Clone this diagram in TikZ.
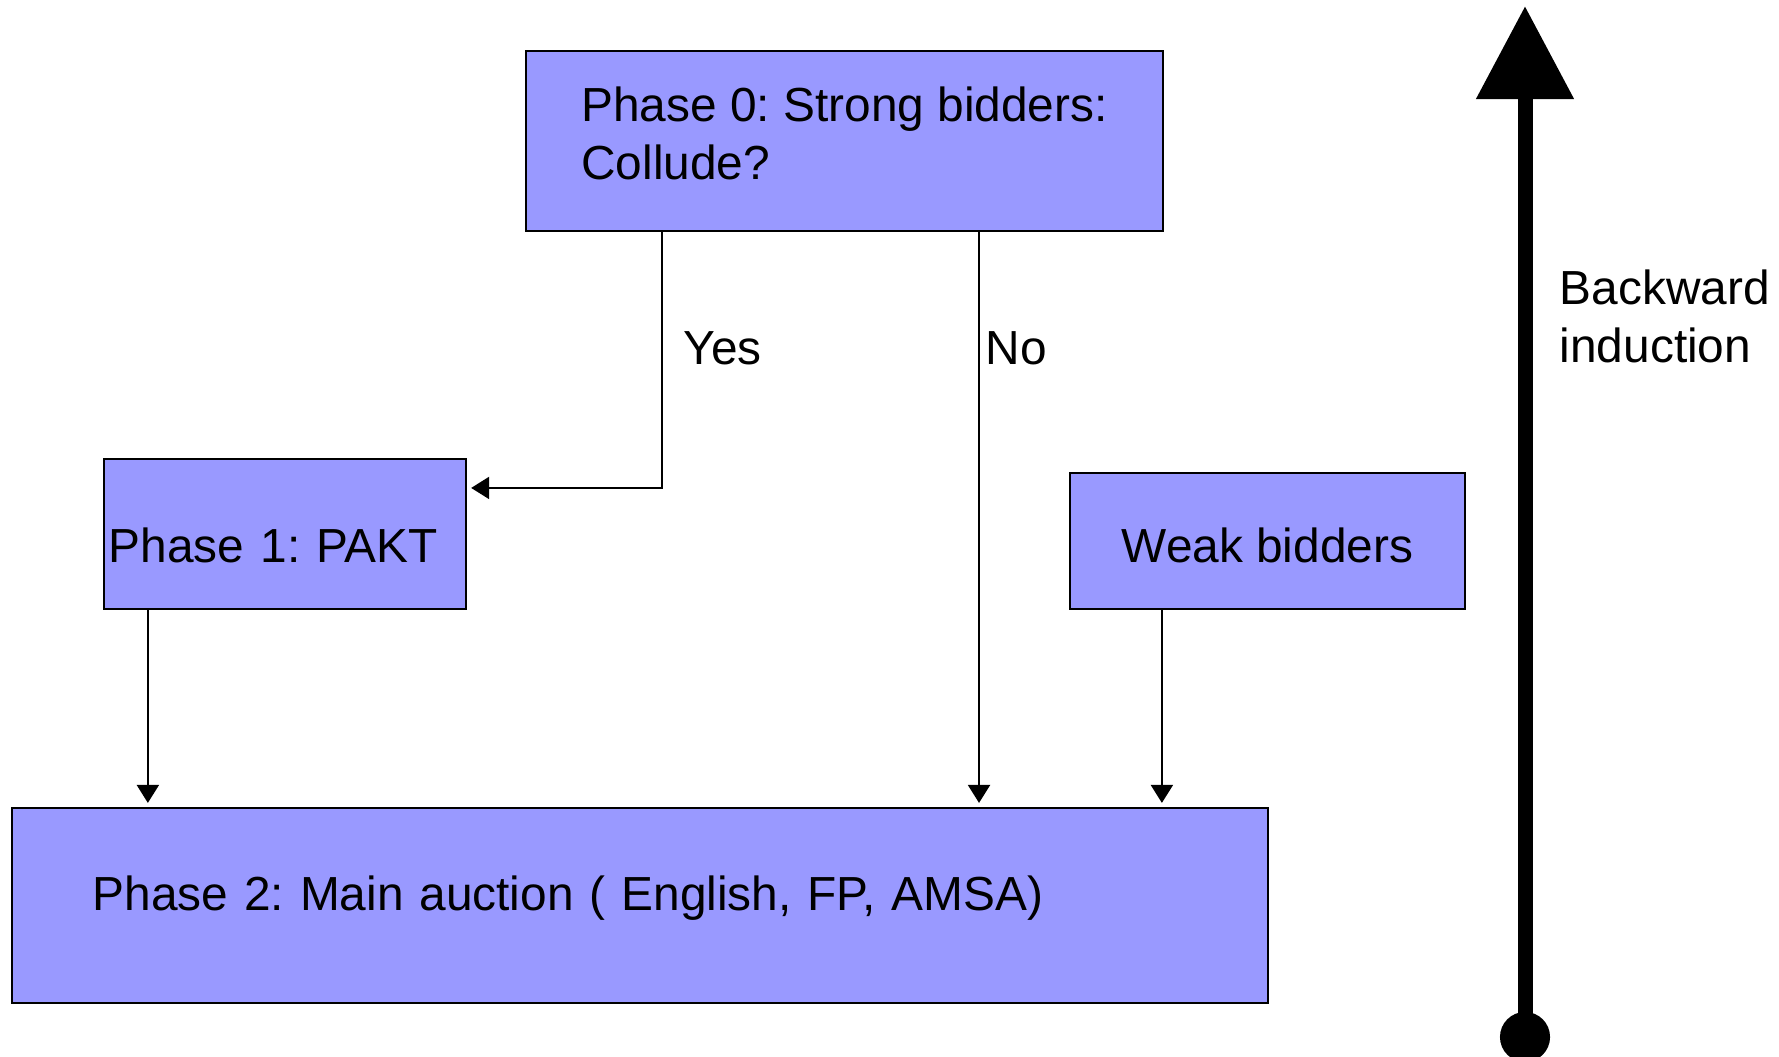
\documentclass[tikz,border=0pt]{standalone}
\usepackage{fontspec}
\setmainfont{Liberation Sans}
\usepackage{xcolor}
\usepackage{tikz}
\usetikzlibrary{arrows.meta,positioning}
\definecolor{boxblue}{RGB}{153,153,255}
\frenchspacing

\begin{document}
\begin{tikzpicture}[x=0.01cm,y=-0.01cm,font=\fontsize{13.6}{16.5}\selectfont,
	phase/.style={draw,fill=boxblue,line width=0.6pt,inner sep=0pt,align=left},
	conn/.style={line width=0.6pt,-{Triangle[length=0.18cm,width=0.22cm]},shorten >=0.04cm},
	tag/.style={inner sep=0pt,anchor=west,align=left}]
	\useasboundingbox (0,0) rectangle (1779,1056);

	\node[phase,minimum width=6.37cm,minimum height=1.80cm,text depth=0.15cm] (strong) at (844.5,141) {Phase 0: Strong bidders:\\Collude?};
	\node[phase,minimum width=3.62cm,minimum height=1.50cm,text width=3.52cm,text height=0.56cm,text depth=0cm] (pakt) at (285,534) {Phase 1: PAKT};
	\node[phase,align=center,minimum width=3.95cm,minimum height=1.36cm,text height=0.42cm,text depth=0cm] (weak) at (1267.5,541) {Weak bidders};
	\node[phase,minimum width=12.56cm,minimum height=1.95cm,text width=10.94cm,text height=0.30cm,text depth=0.21cm] (main) at (640,905.5) {Phase 2: Main auction ( English, FP, AMSA)};

	\coordinate (yesfoot) at ([xshift=1.37cm]strong.south west);
	\coordinate (nofoot) at ([xshift=4.54cm]strong.south west);
	\coordinate (paktfoot) at ([xshift=0.45cm]pakt.south west);
	\coordinate (weakfoot) at ([xshift=0.93cm]weak.south west);

	\draw[conn] (yesfoot) |- ([yshift=-0.30cm]pakt.north east);
	\draw[conn] (nofoot) -- (nofoot |- main.north);
	\draw[conn] (paktfoot) -- (paktfoot |- main.north);
	\draw[conn] (weakfoot) -- (weakfoot |- main.north);

	\node[tag] (yes) at (683,348) {Yes};
	\node[tag] (no) at (985,348) {No};

	\coordinate (start) at (1525,1062);
	\coordinate (goal) at (1525,6);
	\draw[line width=0.15cm,{Circle[length=0.5cm]}-{Triangle[length=0.93cm,width=0.94cm]}] (start) -- (goal);
	\node[tag] (induction) at (1559,316) {Backward\\induction};
\end{tikzpicture}
\end{document}
